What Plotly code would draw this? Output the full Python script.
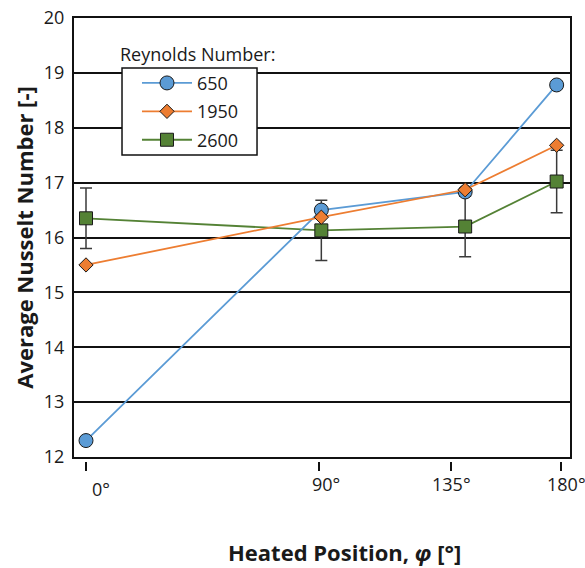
import plotly.graph_objects as go

# Average Nusselt number vs. heated position for three Reynolds numbers
reynolds = ["650", "1950", "2600"]
position_labels = ["0°", "90°", "135°", "180°"]
marker_x = [0, 90, 145, 180]          # where each heated position sits on the axis

nu_650 = [12.30, 16.50, 16.83, 18.78]
nu_1950 = [15.50, 16.37, 16.87, 17.68]
nu_2600 = [16.35, 16.13, 16.20, 17.02]
err_2600 = [0.55, 0.55, 0.55, 0.57]

tick_x = [0, 89.2, 139.5, 181.6]
label_x = [5.6, 91.8, 139.6, 183.7]
label_y = [-0.063, -0.052, -0.052, -0.052]

FONT = "Open Sans"
TXT = "#1a1a1a"
colors = {"650": "#5B9BD5", "1950": "#ED7D31", "2600": "#548235"}

fig = go.Figure()

# green first so the other markers sit on top of its error bars
fig.add_trace(go.Scatter(
    x=marker_x, y=nu_2600, name=reynolds[2], mode="lines+markers",
    legendrank=3, legendgroup="c",
    line=dict(color=colors["2600"], width=1.8),
    marker=dict(symbol="square", size=13, color=colors["2600"],
                line=dict(color="#1a1a1a", width=1)),
    error_y=dict(type="data", array=err_2600, visible=True,
                 color="#3a3a3a", thickness=1.5, width=6),
))
fig.add_trace(go.Scatter(
    x=marker_x, y=nu_650, name=reynolds[0], mode="lines+markers",
    legendrank=1, legendgroup="a",
    line=dict(color=colors["650"], width=1.8),
    marker=dict(symbol="circle", size=14, color=colors["650"],
                line=dict(color="#1a1a1a", width=1)),
))
fig.add_trace(go.Scatter(
    x=marker_x, y=nu_1950, name=reynolds[1], mode="lines+markers",
    legendrank=2, legendgroup="b",
    line=dict(color=colors["1950"], width=1.8),
    marker=dict(symbol="diamond", size=11, color=colors["1950"],
                line=dict(color="#1a1a1a", width=1)),
))

x_range = [-4.59, 185.1]

annotations = [
    dict(text=lab, x=lx, xref="x", y=ly, yref="paper",
         xanchor="center", yanchor="middle", showarrow=False,
         font=dict(family=FONT, size=18, color=TXT))
    for lab, lx, ly in zip(position_labels, label_x, label_y)
]
annotations.append(dict(
    text="<b>Heated Position, <i>φ</i> [°]</b>", x=0.545, xref="paper",
    y=-0.2054, yref="paper", xanchor="center", yanchor="middle",
    showarrow=False, font=dict(family=FONT, size=22, color=TXT)))
annotations.append(dict(
    text="Reynolds Number:", x=0.248, xref="paper", y=0.919, yref="paper",
    xanchor="center", yanchor="middle", showarrow=False,
    font=dict(family=FONT, size=18, color=TXT)))

# framed white panel behind the legend entries
legend_frame = dict(
    type="rect", xref="paper", yref="paper",
    x0=0.0968, x1=0.369, y0=0.691, y1=0.887,
    fillcolor="white", line=dict(color="#111111", width=1.5), layer="above",
)

fig.update_layout(
    width=585, height=568,
    margin=dict(l=74, r=15, t=18, b=107, autoexpand=False),
    paper_bgcolor="white", plot_bgcolor="white",
    font=dict(family=FONT, size=18, color=TXT),
    showlegend=True,
    legend=dict(
        x=0.127, y=0.8945, xanchor="left", yanchor="top",
        bgcolor="rgba(0,0,0,0)", borderwidth=0,
        itemwidth=50, tracegroupgap=2,
        font=dict(family=FONT, size=18, color=TXT),
    ),
    shapes=[legend_frame],
    xaxis=dict(
        range=x_range, showgrid=False, zeroline=False, automargin=False,
        showticklabels=False, ticks="",
        showline=True, linecolor="#111111", linewidth=2, mirror=True,
    ),
    xaxis2=dict(
        range=x_range, overlaying="x", anchor="free", position=0,
        side="bottom", tickmode="array", tickvals=tick_x, automargin=False,
        ticks="outside", ticklen=9, tickwidth=2, tickcolor="#111111",
        showticklabels=False, showgrid=False, zeroline=False, showline=False,
    ),
    yaxis=dict(
        range=[12, 20], domain=[0.009, 1], dtick=1, tick0=12, automargin=False,
        showgrid=True, gridcolor="#111111", gridwidth=2, zeroline=False,
        showline=True, linecolor="#111111", linewidth=2, mirror=True,
        ticks="", ticklabelstandoff=4,
        tickfont=dict(family=FONT, size=18, color=TXT),
        title=dict(text="<b>Average Nusselt Number [-]</b>", standoff=4,
                   font=dict(family=FONT, size=22, color=TXT)),
    ),
    annotations=annotations,
)

# invisible trace to activate the tick-only axis
fig.add_trace(go.Scatter(x=[0], y=[12], xaxis="x2", yaxis="y", mode="markers",
                         marker=dict(opacity=0), showlegend=False,
                         hoverinfo="skip"))

fig.write_html("out.html")
